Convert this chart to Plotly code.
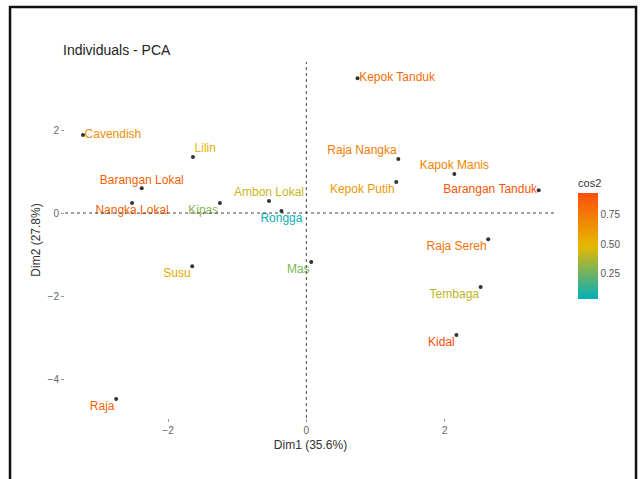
import plotly.graph_objects as go
from plotly.colors import sample_colorscale

# PCA individuals: coordinates on Dim1 / Dim2 and quality of representation (cos2)
names = [
    "Kepok Tanduk", "Cavendish", "Lilin", "Barangan Lokal", "Ambon Lokal",
    "Kipas", "Nangka Lokal", "Rongga", "Susu", "Mas", "Raja",
    "Raja Nangka", "Kapok Manis", "Kepok Putih", "Barangan Tanduk",
    "Raja Sereh", "Tembaga", "Kidal",
]
dim1 = [0.74, -3.23, -1.64, -2.38, -0.54, -1.25, -2.52, -0.36, -1.65, 0.07, -2.75,
        1.33, 2.14, 1.30, 3.36, 2.63, 2.52, 2.17]
dim2 = [3.25, 1.88, 1.35, 0.60, 0.29, 0.24, 0.24, 0.05, -1.28, -1.18, -4.48,
        1.30, 0.94, 0.75, 0.55, -0.63, -1.78, -2.94]
cos2 = [0.80, 0.66, 0.50, 0.86, 0.42, 0.30, 0.86, 0.06, 0.55, 0.28, 0.84,
        0.74, 0.70, 0.62, 0.90, 0.78, 0.40, 0.93]
label_pos = [
    "middle right", "middle right", "top right", "top center", "top center",
    "bottom left", "bottom center", "bottom center", "bottom left", "bottom left",
    "bottom left", "top left", "top center", "bottom left", "middle left",
    "bottom left", "bottom left", "bottom left",
]

x_ticks = [-2, 0, 2]
y_ticks = [2, 0, -2, -4]
cbar_ticks = [0.25, 0.50, 0.75]

gradient = [[0.0, "#00AFBB"], [0.5, "#E7B800"], [1.0, "#FC4E07"]]
cmin, cmax = 0.04, 0.93
text_colors = sample_colorscale(gradient, [(c - cmin) / (cmax - cmin) for c in cos2])

font = "Liberation Sans, Arial, sans-serif"

fig = go.Figure()

# labels coloured by cos2, carrying the colour bar
fig.add_trace(go.Scatter(
    x=dim1, y=dim2, mode="markers+text", text=names,
    textposition=label_pos,
    textfont=dict(family=font, size=12, color=text_colors),
    marker=dict(
        size=1, color=cos2, colorscale=gradient, cmin=cmin, cmax=cmax,
        showscale=True,
        colorbar=dict(
            title=dict(text="cos2", side="top", font=dict(family=font, size=11, color="#333")),
            thickness=20, len=123, lenmode="pixels", xpad=0, ypad=0,
            x=1.045, xanchor="left", y=(418 - 176) / 356, yanchor="top",
            tickvals=cbar_ticks, ticktext=["0.25", "0.50", "0.75"],
            tickfont=dict(family=font, size=10, color="#555"),
            outlinewidth=0, ticks="",
        ),
    ),
    hoverinfo="skip", showlegend=False,
))

# individual points
fig.add_trace(go.Scatter(
    x=dim1, y=dim2, mode="markers",
    marker=dict(size=4, color="#333333"),
    showlegend=False,
))

# outer frame around the figure
fig.add_shape(type="rect", xref="paper", yref="paper",
              x0=-0.112, x1=1.163, y0=-0.19, y1=1.1545,
              line=dict(color="#111111", width=2.5), layer="above")

fig.add_annotation(text="Individuals - PCA", xref="paper", yref="paper",
                   x=-0.009, y=1.005, xanchor="left", yanchor="bottom",
                   showarrow=False, font=dict(family=font, size=14, color="#222"))

axis_common = dict(
    showgrid=False, zeroline=False, showline=False,
    ticks="outside", ticklen=3, tickcolor="#999",
    tickfont=dict(family=font, size=10, color="#666"),
)

fig.update_layout(
    width=641, height=479,
    margin=dict(l=65, r=85, t=62, b=61),
    paper_bgcolor="white", plot_bgcolor="white",
    xaxis=dict(range=[-3.49, 3.61], tickvals=x_ticks,
               title=dict(text="Dim1 (35.6%)", font=dict(family=font, size=12, color="#333"),
                          standoff=5),
               **axis_common),
    yaxis=dict(range=[-4.94, 3.64], tickvals=y_ticks,
               title=dict(text="Dim2 (27.8%)", font=dict(family=font, size=12, color="#333"),
                          standoff=4),
               **axis_common),
)

# dashed reference lines through the origin
fig.add_hline(y=0, line=dict(color="#444", width=1, dash="3px,3px"))
fig.add_vline(x=0, line=dict(color="#444", width=1, dash="3px,3px"))

fig.write_html("out.html")
